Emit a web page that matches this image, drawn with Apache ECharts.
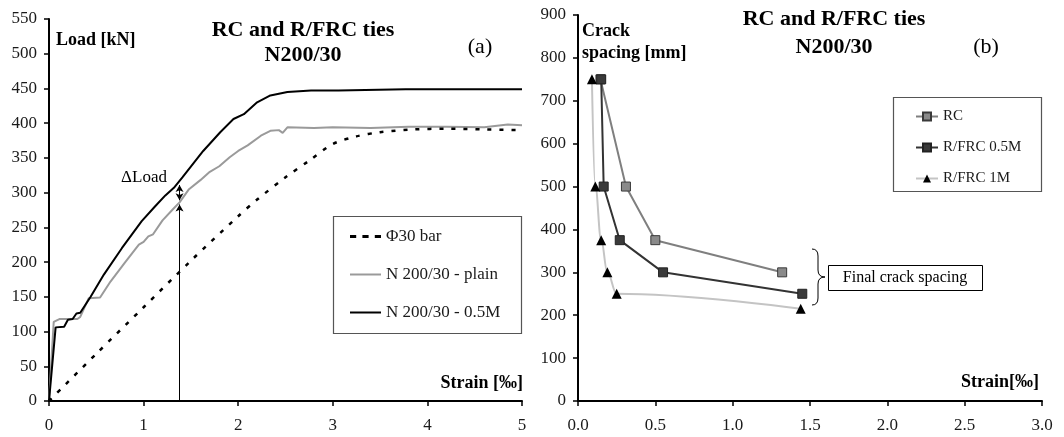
<!DOCTYPE html>
<html>
<head>
<meta charset="utf-8">
<script src="https://cdn.jsdelivr.net/npm/echarts@6/dist/echarts.min.js"></script>
<style>html,body{margin:0;padding:0;background:#fff}#c{width:1064px;height:437px}</style>
</head>
<body>
<div id="c"></div>
<script>
// ---- Chart (a): Load vs strain ----
const barStrain   = [0, 0.5, 1.0, 1.5, 2.0, 2.2, 2.5, 2.75, 3.0, 3.25, 3.5, 3.85, 4.2, 4.6, 5.0];
const barLoad     = [0, 68, 135, 202, 266, 290, 322, 346, 370, 381, 387, 391, 392, 391, 390];
const plainStrain = [0, 0.05, 0.11, 0.30, 0.33, 0.42, 0.54, 0.65, 0.80, 0.95, 1.0, 1.05, 1.1, 1.2, 1.31, 1.33, 1.38, 1.48, 1.6, 1.7, 1.8, 1.91, 2.0, 2.1, 2.24, 2.34, 2.43, 2.47, 2.52, 2.8, 3.0, 3.4, 3.8, 4.2, 4.6, 4.85, 5.0];
const plainLoad   = [0, 114, 118, 118, 121, 148, 149, 172, 199, 225, 229, 237, 240, 260, 276, 274, 286, 305, 318, 330, 338, 351, 360, 368, 382, 389, 390, 386, 394, 393, 394, 393, 395, 395, 394, 398, 397];
const m05Strain   = [0, 0.07, 0.16, 0.2, 0.25, 0.29, 0.33, 0.44, 0.58, 0.77, 0.98, 1.12, 1.23, 1.32, 1.41, 1.63, 1.81, 1.95, 2.06, 2.2, 2.34, 2.52, 2.77, 3.06, 3.77, 5.0];
const m05Load     = [0, 106, 107, 117, 118, 126, 127, 150, 182, 220, 259, 280, 296, 307, 322, 360, 387, 406, 413, 430, 440, 445, 447, 447, 449, 449];
const namesA      = ['\u03A630 bar', 'N 200/30 - plain', 'N 200/30 - 0.5M'];
const deltaStrain = 1.38;
const deltaLoads  = [0, 283, 289, 311];

// ---- Chart (b): Crack spacing vs strain ----
const rcStrain    = [0.145, 0.31, 0.50, 1.32];
const rcSpacing   = [750, 500, 375, 300];
const f05Strain   = [0.15, 0.166, 0.27, 0.55, 1.45];
const f05Spacing  = [750, 500, 375, 300, 250];
const f1Strain    = [0.09, 0.112, 0.15, 0.19, 0.25, 1.44];
const f1Spacing   = [750, 500, 375, 300, 250, 215];
const namesB      = ['RC', 'R/FRC 0.5M', 'R/FRC 1M'];

const zip = (xs, ys) => xs.map((x, i) => [x, ys[i]]);
const FONT = '"Liberation Serif", "Times New Roman", serif';
const TXT = '#1a1a1a';

const axisCommon = {
  axisLine: { lineStyle: { color: '#000', width: 2 } },
  axisTick: { show: true, inside: false, length: 5, lineStyle: { color: '#000', width: 1.5 } },
  splitLine: { show: false },
  axisLabel: { fontFamily: FONT, fontSize: 17, color: TXT }
};

const ICON_DASH  = 'path://M0 0H6V3H0Z M12 0H18V3H12Z M24 0H30V3H24Z';
const ICON_SOLID = 'path://M0 0H31V2H0Z';

const chart = echarts.init(document.getElementById('c'), null, { renderer: 'canvas' });

function brace(x0, xm, xt, yTop, yMid, yBot) {
  const s = { fill: 'none', stroke: '#000', lineWidth: 1 };
  return [
    { type: 'bezierCurve', shape: { x1: x0, y1: yTop, x2: xm, y2: yTop + 7, cpx1: xm, cpy1: yTop }, style: s },
    { type: 'line', shape: { x1: xm, y1: yTop + 7, x2: xm, y2: yMid - 7 }, style: s },
    { type: 'bezierCurve', shape: { x1: xm, y1: yMid - 7, x2: xt, y2: yMid, cpx1: xm, cpy1: yMid }, style: s },
    { type: 'bezierCurve', shape: { x1: xt, y1: yMid, x2: xm, y2: yMid + 7, cpx1: xm, cpy1: yMid }, style: s },
    { type: 'line', shape: { x1: xm, y1: yMid + 7, x2: xm, y2: yBot - 7 }, style: s },
    { type: 'bezierCurve', shape: { x1: xm, y1: yBot - 7, x2: x0, y2: yBot, cpx1: xm, cpy1: yBot }, style: s }
  ];
}

const option = {
  animation: false,
  backgroundColor: '#fff',
  grid: [
    { left: 49, top: 19, width: 473, height: 382 },
    { left: 578, top: 15, width: 464, height: 386 }
  ],
  xAxis: [
    Object.assign({}, axisCommon, { gridIndex: 0, type: 'value', min: 0, max: 5, interval: 1,
      axisLabel: Object.assign({}, axisCommon.axisLabel, { margin: 16 }) }),
    Object.assign({}, axisCommon, { gridIndex: 1, type: 'value', min: 0, max: 3, interval: 0.5,
      axisLabel: Object.assign({}, axisCommon.axisLabel, { margin: 16, formatter: v => v.toFixed(1) }) })
  ],
  yAxis: [
    Object.assign({}, axisCommon, { gridIndex: 0, type: 'value', min: 0, max: 550, interval: 50,
      axisLabel: Object.assign({}, axisCommon.axisLabel, { margin: 12 }) }),
    Object.assign({}, axisCommon, { gridIndex: 1, type: 'value', min: 0, max: 900, interval: 100,
      axisLabel: Object.assign({}, axisCommon.axisLabel, { margin: 12 }) })
  ],
  legend: [
    {
      data: [
        { name: namesA[0], icon: ICON_DASH },
        { name: namesA[1], icon: ICON_SOLID },
        { name: namesA[2], icon: ICON_SOLID }
      ],
      orient: 'vertical', left: 345, top: 223,
      itemWidth: 31, itemHeight: 14, itemGap: 21,
      textStyle: { fontFamily: FONT, fontSize: 17, color: TXT, lineHeight: 17 },
      selectedMode: false
    },
    {
      data: namesB, orient: 'vertical', left: 910, top: 104,
      itemWidth: 22, itemHeight: 10, itemGap: 16,
      textStyle: { fontFamily: FONT, fontSize: 15, color: TXT, lineHeight: 15 },
      selectedMode: false
    }
  ],
  series: [
    {
      name: namesA[1], type: 'line', xAxisIndex: 0, yAxisIndex: 0,
      data: zip(plainStrain, plainLoad), showSymbol: false, symbol: 'none',
      lineStyle: { color: '#9a9a9a', width: 2 }, itemStyle: { color: '#9a9a9a' }, z: 3
    },
    {
      name: namesA[2], type: 'line', xAxisIndex: 0, yAxisIndex: 0,
      data: zip(m05Strain, m05Load), showSymbol: false, symbol: 'none',
      lineStyle: { color: '#000', width: 2 }, itemStyle: { color: '#000' }, z: 4,
      markLine: {
        silent: true, symbol: ['none', 'arrow'], symbolSize: [6, 7],
        label: { show: false },
        lineStyle: { color: '#000', width: 1, type: 'solid' },
        data: [
          [ { coord: [deltaStrain, deltaLoads[0]], symbol: 'none' }, { coord: [deltaStrain, deltaLoads[1]], symbol: 'arrow' } ],
          [ { coord: [deltaStrain, deltaLoads[2]], symbol: 'arrow' }, { coord: [deltaStrain, deltaLoads[3]], symbol: 'arrow' } ]
        ]
      }
    },
    {
      name: namesA[0], type: 'line', xAxisIndex: 0, yAxisIndex: 0,
      data: zip(barStrain, barLoad), showSymbol: false, symbol: 'none', smooth: 0.3,
      lineStyle: { color: '#000', width: 2.5, type: [4, 8] }, itemStyle: { color: '#000' }, z: 5
    },
    {
      name: namesB[0], type: 'line', xAxisIndex: 1, yAxisIndex: 1,
      data: zip(rcStrain, rcSpacing), symbol: 'rect', symbolSize: 9,
      lineStyle: { color: '#7f7f7f', width: 2 },
      itemStyle: { color: '#8a8a8a', borderColor: '#3a3a3a', borderWidth: 1 }, z: 3
    },
    {
      name: namesB[1], type: 'line', xAxisIndex: 1, yAxisIndex: 1,
      data: zip(f05Strain, f05Spacing), symbol: 'rect', symbolSize: 9,
      lineStyle: { color: '#333', width: 2 },
      itemStyle: { color: '#3a3a3a', borderColor: '#222', borderWidth: 1 }, z: 4
    },
    {
      name: namesB[2], type: 'line', xAxisIndex: 1, yAxisIndex: 1,
      data: zip(f1Strain, f1Spacing), symbol: 'triangle', symbolSize: 10,
      smooth: 0.4, smoothMonotone: 'x',
      lineStyle: { color: '#c4c4c4', width: 2 },
      itemStyle: { color: '#000' }, z: 5
    }
  ],
  graphic: [
    // chart (a) texts
    { type: 'text', x: 303, y: 30, style: { text: 'RC and R/FRC ties', font: 'bold 22px ' + FONT, fill: '#000', textAlign: 'center', textVerticalAlign: 'middle' } },
    { type: 'text', x: 303, y: 55, style: { text: 'N200/30', font: 'bold 22px ' + FONT, fill: '#000', textAlign: 'center', textVerticalAlign: 'middle' } },
    { type: 'text', x: 480, y: 47, style: { text: '(a)', font: '22px ' + FONT, fill: '#000', textAlign: 'center', textVerticalAlign: 'middle' } },
    { type: 'text', x: 56, y: 40, style: { text: 'Load [kN]', font: 'bold 18px ' + FONT, fill: '#000', textAlign: 'left', textVerticalAlign: 'middle' } },
    { type: 'text', x: 523, y: 383, style: { text: 'Strain [\u2030]', font: 'bold 18px ' + FONT, fill: '#000', textAlign: 'right', textVerticalAlign: 'middle' } },
    { type: 'text', x: 144, y: 178, style: { text: '\u0394Load', font: '17px ' + FONT, fill: '#000', textAlign: 'center', textVerticalAlign: 'middle' } },
    { type: 'rect', shape: { x: 333.5, y: 216.5, width: 188, height: 117 }, style: { fill: 'none', stroke: '#555', lineWidth: 1.2 }, z: 1 },
    // chart (b) texts
    { type: 'text', x: 834, y: 19, style: { text: 'RC and R/FRC ties', font: 'bold 22px ' + FONT, fill: '#000', textAlign: 'center', textVerticalAlign: 'middle' } },
    { type: 'text', x: 834, y: 47, style: { text: 'N200/30', font: 'bold 22px ' + FONT, fill: '#000', textAlign: 'center', textVerticalAlign: 'middle' } },
    { type: 'text', x: 986, y: 47, style: { text: '(b)', font: '22px ' + FONT, fill: '#000', textAlign: 'center', textVerticalAlign: 'middle' } },
    { type: 'text', x: 582, y: 31, style: { text: 'Crack', font: 'bold 18px ' + FONT, fill: '#000', textAlign: 'left', textVerticalAlign: 'middle' } },
    { type: 'text', x: 582, y: 53, style: { text: 'spacing [mm]', font: 'bold 18px ' + FONT, fill: '#000', textAlign: 'left', textVerticalAlign: 'middle' } },
    { type: 'text', x: 1039, y: 382, style: { text: 'Strain[\u2030]', font: 'bold 18px ' + FONT, fill: '#000', textAlign: 'right', textVerticalAlign: 'middle' } },
    { type: 'rect', shape: { x: 893.5, y: 97.5, width: 148, height: 94 }, style: { fill: 'none', stroke: '#555', lineWidth: 1.2 }, z: 1 },
    ...brace(812, 818, 825, 249, 277, 305),
    { type: 'rect', shape: { x: 828.5, y: 265.5, width: 154, height: 25 }, style: { fill: '#fff', stroke: '#000', lineWidth: 1 } },
    { type: 'text', x: 905, y: 278, style: { text: 'Final crack spacing', font: '16px ' + FONT, fill: '#000', textAlign: 'center', textVerticalAlign: 'middle' } }
  ]
};
chart.setOption(option);
</script>
</body>
</html>
